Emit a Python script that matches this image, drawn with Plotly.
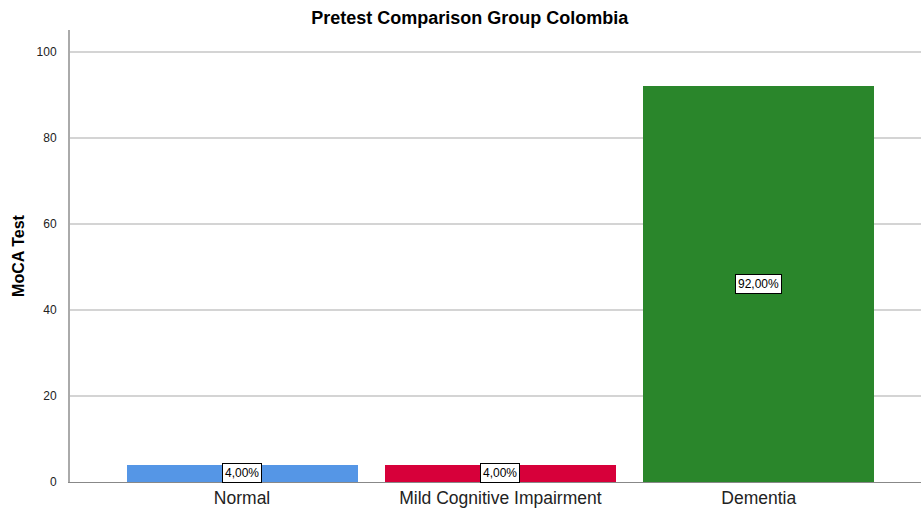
import plotly.graph_objects as go

categories = ["Normal", "Mild Cognitive Impairment", "Dementia"]
values = [4.0, 4.0, 92.0]
colors = ["#5596E6", "#D7003A", "#2A862B"]
value_labels = ["4,00%", "4,00%", "92,00%"]

fig = go.Figure()
fig.add_trace(go.Bar(
    x=categories, y=values,
    marker=dict(color=colors, line=dict(width=0)),
    width=0.894,
    hoverinfo="skip",
))

for c, v, t in zip(categories, values, value_labels):
    fig.add_annotation(
        x=c, y=v / 2, text=t, showarrow=False,
        font=dict(family="Arial, Liberation Sans", size=12, color="black"),
        bgcolor="white", bordercolor="black", borderwidth=1, borderpad=2,
    )

fig.update_layout(
    width=921, height=510,
    margin=dict(l=70, r=0, t=30, b=28),
    paper_bgcolor="white", plot_bgcolor="white",
    showlegend=False,
    bargap=0,
    title=dict(text="<b>Pretest Comparison Group Colombia</b>",
               x=0.51, xanchor="center", y=0.966, yanchor="middle",
               font=dict(family="Arial, Liberation Sans", size=18, color="black")),
    font=dict(family="Arial, Liberation Sans", color="black"),
)
fig.update_xaxes(
    range=[-0.666, 2.628],
    showline=True, linecolor="#888888", linewidth=1,
    showgrid=False, ticks="",
    tickfont=dict(size=17.5, color="#222222"),
)
fig.update_yaxes(
    range=[0, 105.1],
    tickvals=[0, 20, 40, 60, 80, 100],
    showline=True, linecolor="#AAAAAA", linewidth=2,
    showgrid=True, gridcolor="#D4D4D4", gridwidth=2,
    zeroline=False, ticks="", ticklabelstandoff=9,
    tickfont=dict(size=12, color="#222222"),
    title=dict(text="<b>MoCA Test</b>", font=dict(size=16, color="black"), standoff=8),
)

fig.write_html("out.html")
